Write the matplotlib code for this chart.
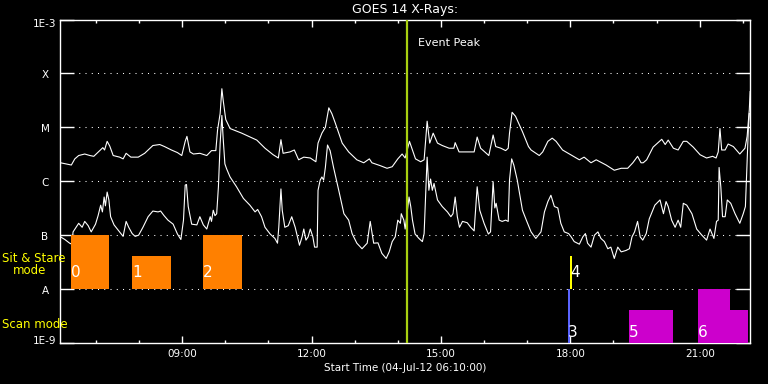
import matplotlib
matplotlib.use("Agg")
import matplotlib.pyplot as plt
import matplotlib.transforms as mtransforms
from matplotlib.ticker import FixedLocator, MultipleLocator, FuncFormatter, NullLocator

# time axis in decimal hours of 04-Jul-12, start 06:10
t_start, t_end = 6 + 10 / 60, 22 + 10 / 60
event_peak = 14.21

# GOES 14 long channel (1-8 A), W/m^2
long_t = [6.18, 6.43, 6.51, 6.60, 6.74, 6.86, 6.95, 7.09, 7.16, 7.20, 7.26, 7.32, 7.40, 7.55,
          7.63, 7.70, 7.81, 7.98, 8.13, 8.32, 8.48, 8.59, 8.75, 8.89, 8.99, 9.07, 9.11, 9.18,
          9.26, 9.41, 9.57, 9.68, 9.78, 9.82, 9.88, 9.92, 9.95, 10.01, 10.11, 10.38, 10.73,
          10.92, 11.11, 11.23, 11.29, 11.34, 11.50, 11.60, 11.70, 11.82, 11.97, 12.10, 12.15,
          12.24, 12.32, 12.40, 12.47, 12.55, 12.71, 12.86, 13.05, 13.21, 13.34, 13.40, 13.59,
          13.75, 13.87, 14.00, 14.10, 14.17, 14.27, 14.34, 14.41, 14.53, 14.61, 14.66, 14.68,
          14.74, 14.82, 14.92, 15.03, 15.19, 15.30, 15.33, 15.42, 15.65, 15.77, 15.84, 15.92,
          16.11, 16.21, 16.27, 16.39, 16.50, 16.56, 16.59, 16.65, 16.73, 16.89, 17.03, 17.09,
          17.28, 17.36, 17.48, 17.58, 17.67, 17.82, 17.98, 18.21, 18.32, 18.48, 18.60, 18.83,
          19.02, 19.18, 19.33, 19.45, 19.56, 19.64, 19.69, 19.77, 19.92, 20.12, 20.20, 20.27,
          20.39, 20.50, 20.62, 20.70, 20.85, 21.01, 21.16, 21.30, 21.38, 21.43, 21.47, 21.51,
          21.59, 21.66, 21.78, 21.93, 22.05, 22.10, 22.15, 22.17]
long_flux = [2.2e-6, 2.0e-6, 2.6e-6, 3.0e-6, 3.2e-6, 3.0e-6, 2.9e-6, 3.7e-6, 4.2e-6, 3.8e-6,
             5.5e-6, 4.5e-6, 3.0e-6, 2.8e-6, 2.6e-6, 3.3e-6, 2.8e-6, 2.8e-6, 3.3e-6, 4.6e-6,
             4.8e-6, 4.4e-6, 3.8e-6, 3.4e-6, 3.0e-6, 5.5e-6, 6.8e-6, 3.5e-6, 3.2e-6, 3.3e-6,
             3.0e-6, 3.7e-6, 3.7e-6, 8.9e-6, 1.8e-5, 5.2e-5, 3.2e-5, 1.4e-5, 9.5e-6, 7.8e-6,
             5.8e-6, 4.1e-6, 3.1e-6, 2.7e-6, 5.9e-6, 3.3e-6, 3.5e-6, 3.8e-6, 2.5e-6, 2.8e-6,
             2.7e-6, 2.3e-6, 5.1e-6, 7.8e-6, 1.0e-5, 2.3e-5, 1.8e-5, 1.2e-5, 5.1e-6, 3.5e-6,
             2.5e-6, 2.2e-6, 2.6e-6, 2.2e-6, 1.95e-6, 1.74e-6, 1.86e-6, 2.6e-6, 3.2e-6, 2.7e-6,
             5.5e-6, 3.8e-6, 2.6e-6, 2.3e-6, 2.5e-6, 7.8e-6, 1.3e-5, 5.1e-6, 7.8e-6, 5.1e-6,
             4.6e-6, 4.1e-6, 4.1e-6, 5.2e-6, 3.5e-6, 3.5e-6, 3.5e-6, 6.6e-6, 4.1e-6, 3.0e-6,
             7.2e-6, 4.4e-6, 4.1e-6, 3.7e-6, 4.1e-6, 7.8e-6, 1.9e-5, 1.6e-5, 8.3e-6, 4.4e-6,
             3.8e-6, 3.0e-6, 3.5e-6, 5.5e-6, 6.3e-6, 5.5e-6, 3.8e-6, 3.2e-6, 2.5e-6, 2.8e-6,
             2.2e-6, 2.5e-6, 2.0e-6, 1.6e-6, 1.74e-6, 1.74e-6, 2.2e-6, 2.9e-6, 2.2e-6, 2.2e-6,
             2.5e-6, 4.3e-6, 6.0e-6, 4.8e-6, 5.8e-6, 4.1e-6, 3.8e-6, 5.5e-6, 5.5e-6, 4.3e-6,
             3.1e-6, 2.7e-6, 2.9e-6, 2.7e-6, 3.5e-6, 9.5e-6, 3.8e-6, 3.8e-6, 4.9e-6, 4.4e-6,
             3.2e-6, 4.1e-6, 6.8e-6, 2.1e-5, 4.6e-5]

# GOES 14 short channel (0.5-4 A), W/m^2
short_t = [6.18, 6.28, 6.39, 6.44, 6.47, 6.54, 6.60, 6.68, 6.74, 6.82, 6.89, 6.99, 7.05, 7.11,
           7.15, 7.19, 7.22, 7.26, 7.30, 7.34, 7.42, 7.55, 7.63, 7.70, 7.76, 7.84, 7.91, 7.99,
           8.09, 8.21, 8.32, 8.44, 8.50, 8.58, 8.67, 8.79, 8.89, 8.97, 9.03, 9.07, 9.10, 9.14,
           9.22, 9.34, 9.41, 9.49, 9.57, 9.65, 9.68, 9.72, 9.76, 9.80, 9.84, 9.88, 9.92, 9.95,
           9.99, 10.03, 10.11, 10.26, 10.42, 10.57, 10.69, 10.75, 10.84, 10.92, 11.04, 11.15,
           11.21, 11.24, 11.29, 11.32, 11.38, 11.46, 11.54, 11.62, 11.72, 11.78, 11.82, 11.87,
           11.92, 11.97, 12.03, 12.07, 12.13, 12.15, 12.20, 12.24, 12.28, 12.32, 12.37, 12.43,
           12.51, 12.63, 12.75, 12.86, 12.94, 13.05, 13.17, 13.29, 13.36, 13.44, 13.54, 13.63,
           13.73, 13.80, 13.87, 13.94, 14.00, 14.06, 14.08, 14.14, 14.17, 14.26, 14.30, 14.34,
           14.40, 14.49, 14.57, 14.61, 14.65, 14.68, 14.72, 14.76, 14.80, 14.84, 14.92, 15.03,
           15.15, 15.23, 15.28, 15.33, 15.38, 15.43, 15.50, 15.61, 15.69, 15.77, 15.84, 15.90,
           16.00, 16.10, 16.15, 16.21, 16.25, 16.28, 16.35, 16.42, 16.50, 16.56, 16.59, 16.64,
           16.69, 16.77, 16.89, 16.98, 17.09, 17.20, 17.32, 17.40, 17.48, 17.55, 17.63, 17.71,
           17.78, 17.86, 17.96, 18.02, 18.09, 18.21, 18.29, 18.35, 18.40, 18.48, 18.56, 18.64,
           18.71, 18.79, 18.87, 18.94, 19.02, 19.10, 19.18, 19.29, 19.37, 19.43, 19.49, 19.56,
           19.62, 19.68, 19.76, 19.83, 19.96, 20.08, 20.16, 20.22, 20.27, 20.35, 20.43, 20.50,
           20.56, 20.62, 20.70, 20.82, 20.93, 21.05, 21.16, 21.24, 21.30, 21.33, 21.39, 21.43,
           21.45, 21.49, 21.53, 21.59, 21.64, 21.72, 21.82, 21.93, 22.01, 22.06, 22.09, 22.13,
           22.15]
short_flux = [9.3e-8, 8.3e-8, 7.1e-8, 6.8e-8, 1.15e-7, 1.4e-7, 1.66e-7, 1.4e-7, 1.8e-7, 1.5e-7,
              1.15e-7, 1.6e-7, 2.3e-7, 3.6e-7, 2.7e-7, 5.1e-7, 3.5e-7, 6.3e-7, 4.5e-7, 2.2e-7,
              1.55e-7, 1.15e-7, 9.5e-8, 1.8e-7, 1.4e-7, 1.07e-7, 9.5e-8, 1.0e-7, 1.4e-7, 2.2e-7,
              2.8e-7, 2.7e-7, 2.8e-7, 2.3e-7, 1.9e-7, 1.6e-7, 1.05e-7, 8.3e-8, 1.9e-7, 8.5e-7,
              8.7e-7, 3.4e-7, 1.6e-7, 1.55e-7, 2.2e-7, 1.55e-7, 1.3e-7, 2.2e-7, 1.8e-7, 2.9e-7,
              2.3e-7, 2.5e-7, 7.9e-7, 5.0e-6, 1.66e-5, 6.3e-6, 2.1e-6, 1.7e-6, 1.2e-6, 7.9e-7,
              4.8e-7, 3.6e-7, 2.7e-7, 3.0e-7, 2.2e-7, 1.4e-7, 1.05e-7, 8.7e-8, 7.1e-8, 1.4e-7,
              7.2e-7, 2.9e-7, 1.4e-7, 1.5e-7, 2.2e-7, 1.4e-7, 6.5e-8, 9.3e-8, 1.3e-7, 8.1e-8,
              9.3e-8, 1.3e-7, 9.3e-8, 6.0e-8, 6.0e-8, 6.8e-7, 1.05e-6, 1.2e-6, 1.05e-6, 1.8e-6,
              4.7e-6, 3.7e-6, 1.8e-6, 6.8e-7, 2.5e-7, 1.9e-7, 1.07e-7, 7.1e-8, 5.6e-8, 7.1e-8,
              1.8e-7, 7.1e-8, 7.2e-8, 4.6e-8, 3.7e-8, 4.9e-8, 7.6e-8, 9.3e-8, 1.9e-7, 1.66e-7,
              2.5e-7, 1.9e-7, 1.3e-7, 5.1e-7, 3.4e-7, 1.9e-7, 1.05e-7, 8.7e-8, 7.6e-8, 1.07e-7,
              6.8e-7, 2.8e-6, 6.8e-7, 1.1e-6, 6.8e-7, 9.1e-7, 4.5e-7, 3.4e-7, 2.7e-7, 2.2e-7,
              2.5e-7, 5.1e-7, 2.2e-7, 1.4e-7, 1.8e-7, 1.7e-7, 1.4e-7, 1.2e-7, 7.9e-7, 2.9e-7,
              1.66e-7, 1.05e-7, 1.15e-7, 9.8e-7, 3.2e-7, 3.9e-7, 1.9e-7, 1.8e-7, 1.9e-7, 1.8e-7,
              1.05e-6, 2.6e-6, 2.0e-6, 1.05e-6, 2.9e-7, 1.9e-7, 1.15e-7, 8.7e-8, 1.15e-7, 2.7e-7,
              4.2e-7, 5.5e-7, 3.4e-7, 3.2e-7, 1.66e-7, 1.15e-7, 1.07e-7, 9.3e-8, 7.6e-8, 6.8e-8,
              9.3e-8, 1.07e-7, 7.1e-8, 6.0e-8, 1.0e-7, 1.15e-7, 8.7e-8, 7.6e-8, 5.6e-8, 6.0e-8,
              3.7e-8, 6.0e-8, 4.9e-8, 5.2e-8, 5.6e-8, 9.3e-8, 1.15e-7, 1.8e-7, 9.3e-8, 8.1e-8,
              1.07e-7, 2.0e-7, 3.6e-7, 4.5e-7, 2.5e-7, 4.2e-7, 3.4e-7, 1.9e-7, 1.4e-7, 1.9e-7,
              1.4e-7, 3.9e-7, 3.6e-7, 2.5e-7, 1.3e-7, 1.0e-7, 8.1e-8, 1.3e-7, 1.0e-7, 8.7e-8,
              1.8e-7, 1.9e-7, 1.8e-6, 7.9e-7, 2.2e-7, 2.2e-7, 4.5e-7, 3.9e-7, 2.5e-7, 1.66e-7,
              2.5e-7, 3.4e-7, 1.4e-6, 1.0e-5, 1.8e-5]

flux_ticks = [1e-9, 1e-8, 1e-7, 1e-6, 1e-5, 1e-4, 1e-3]
flux_labels = ['1E-9', 'A', 'B', 'C', 'M', 'X', '1E-3']

# observation blocks: Sit & Stare (between A and B) and Scan (below A)
stare_ids = ['0', '1', '2', '4']
stare_start = [6.42, 7.84, 9.48, 18.00]
stare_end = [7.30, 8.74, 10.38, 18.04]
stare_top = [1e-7, 4.1e-8, 1e-7, 4.1e-8]
scan_ids = ['3', '5', '6', '']
scan_start = [17.95, 19.35, 20.96, 21.70]
scan_end = [18.00, 20.38, 21.70, 22.12]
scan_top = [1e-8, 4.1e-9, 1e-8, 4.1e-9]

stare_colors = ['#ff8000', '#ff8000', '#ff8000', '#ffff00']
scan_colors = ['#5a64ff', '#cc00cc', '#cc00cc', '#cc00cc']

W, H = 768, 384
fig = plt.figure(figsize=(W / 100, H / 100), dpi=100, facecolor='black')
ax = fig.add_axes([60 / W, 1 - 343 / H, 690 / W, 323.5 / H], facecolor='black')

ax.set_yscale('log')
ax.set_xlim(t_start, t_end)
ax.set_ylim(1e-9, 1e-3)

# dotted class levels
for lev in flux_ticks[1:-1]:
    ax.axhline(lev, color='white', lw=0.75, ls=(0, (1, 5)), zorder=1)

ax.plot(long_t, long_flux, color='white', lw=0.8, zorder=3)
ax.plot(short_t, short_flux, color='white', lw=0.8, zorder=3)

for i in range(len(stare_ids)):
    ax.bar(stare_start[i], stare_top[i] - 1e-8, width=stare_end[i] - stare_start[i],
           bottom=1e-8, align='edge', color=stare_colors[i], lw=0, zorder=4)
    ax.text(stare_start[i], 2.0e-8, stare_ids[i], color='white', fontsize=11,
            ha='left', va='center', zorder=5)
for i in range(len(scan_ids)):
    ax.bar(scan_start[i], scan_top[i] - 1e-9, width=scan_end[i] - scan_start[i],
           bottom=1e-9, align='edge', color=scan_colors[i], lw=0, zorder=4)
    ax.text(scan_start[i], 1.55e-9, scan_ids[i], color='white', fontsize=11,
            ha='left', va='center', zorder=5)

ax.axvline(event_peak, color='#a8d010', lw=1.6, zorder=6)
ax.text(event_peak + 0.25, 3.7e-4, 'Event Peak', color='white', fontsize=8,
        ha='left', va='center')

# axes styling
for sp in ax.spines.values():
    sp.set_color('white')
    sp.set_linewidth(1.0)
ax.yaxis.set_major_locator(FixedLocator(flux_ticks))
ax.yaxis.set_minor_locator(NullLocator())
ax.set_yticklabels(flux_labels)
ax.tick_params(axis='y', which='major', direction='in', length=10, width=1, left=True,
               right=True, colors='white', labelsize=7.5, pad=10.8)
ylabs = ax.get_yticklabels()
for lab in ylabs:
    lab.set_horizontalalignment('center')
    lab.set_transform(lab.get_transform() +
                      mtransforms.ScaledTranslation(0, -1 / 100, fig.dpi_scale_trans))
# end labels sit inside the frame as in the original
ylabs[0].set_transform(ylabs[0].get_transform() +
                       mtransforms.ScaledTranslation(0, 4 / 100, fig.dpi_scale_trans))
ylabs[-1].set_transform(ylabs[-1].get_transform() +
                        mtransforms.ScaledTranslation(0, -2.5 / 100, fig.dpi_scale_trans))

ax.xaxis.set_major_locator(MultipleLocator(3))
ax.xaxis.set_minor_locator(MultipleLocator(1))
ax.xaxis.set_major_formatter(FuncFormatter(lambda v, p: '%02d:00' % int(round(v))))
ax.tick_params(axis='x', which='major', direction='in', length=4.7, width=1, top=True,
               bottom=True, colors='white', labelsize=7.5, pad=4)
ax.tick_params(axis='x', which='minor', direction='in', length=2.4, width=1, top=True,
               bottom=True, colors='white')

fig.text(405 / W, 1 - 9.5 / H, 'GOES 14 X-Rays:', color='white', fontsize=9,
         ha='center', va='center')
fig.text(405 / W, 1 - 368.3 / H, 'Start Time (04-Jul-12 06:10:00)', color='white',
         fontsize=7.5, ha='center', va='center')
fig.text(2 / W, 1 - 259 / H, 'Sit & Stare', color='#ffff00', fontsize=8.5, ha='left', va='center')
fig.text(13 / W, 1 - 271 / H, 'mode', color='#ffff00', fontsize=8.5, ha='left', va='center')
fig.text(2 / W, 1 - 324 / H, 'Scan mode', color='#ffff00', fontsize=8.5, ha='left', va='center')

fig.savefig('out.png', dpi=100, facecolor='black')
